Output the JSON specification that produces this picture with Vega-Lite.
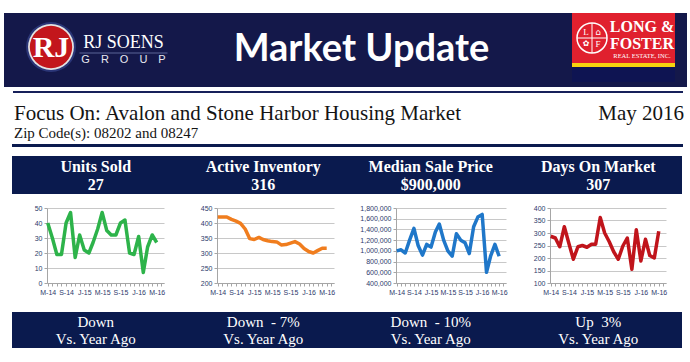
{
  "$schema": "https://vega.github.io/schema/vega-lite/v6.json",
  "padding": {"left": 4, "top": 13, "right": 3, "bottom": 13},
  "background": "white",
  "config": {
    "view": {"stroke": null},
    "concat": {"spacing": 0},
    "axis": {"labelFont": "Liberation Sans", "labelFontSize": 7, "labelColor": "#2e3a6b", "title": null}
  },
  "datasets": {
    "trend": [
      {"month": "2014-05-01", "units": 40, "inventory": 420, "price": 1000000, "dom": 287},
      {"month": "2014-06-01", "units": 30, "inventory": 420, "price": 1020000, "dom": 280},
      {"month": "2014-07-01", "units": 19, "inventory": 420, "price": 960000, "dom": 245},
      {"month": "2014-08-01", "units": 19, "inventory": 412, "price": 1200000, "dom": 325},
      {"month": "2014-09-01", "units": 40, "inventory": 406, "price": 1420000, "dom": 258},
      {"month": "2014-10-01", "units": 47, "inventory": 399, "price": 1100000, "dom": 195},
      {"month": "2014-11-01", "units": 17, "inventory": 380, "price": 920000, "dom": 245},
      {"month": "2014-12-01", "units": 32, "inventory": 348, "price": 1120000, "dom": 250},
      {"month": "2015-01-01", "units": 22, "inventory": 345, "price": 1070000, "dom": 243},
      {"month": "2015-02-01", "units": 20, "inventory": 352, "price": 1350000, "dom": 255},
      {"month": "2015-03-01", "units": 27, "inventory": 345, "price": 1500000, "dom": 255},
      {"month": "2015-04-01", "units": 36, "inventory": 341, "price": 1200000, "dom": 362},
      {"month": "2015-05-01", "units": 47, "inventory": 338, "price": 1000000, "dom": 300},
      {"month": "2015-06-01", "units": 35, "inventory": 337, "price": 900000, "dom": 265},
      {"month": "2015-07-01", "units": 32, "inventory": 327, "price": 1320000, "dom": 225},
      {"month": "2015-08-01", "units": 32, "inventory": 328, "price": 1200000, "dom": 195},
      {"month": "2015-09-01", "units": 40, "inventory": 333, "price": 1150000, "dom": 248},
      {"month": "2015-10-01", "units": 42, "inventory": 338, "price": 950000, "dom": 280},
      {"month": "2015-11-01", "units": 20, "inventory": 330, "price": 1450000, "dom": 155},
      {"month": "2015-12-01", "units": 19, "inventory": 315, "price": 1630000, "dom": 313},
      {"month": "2016-01-01", "units": 31, "inventory": 305, "price": 1680000, "dom": 188},
      {"month": "2016-02-01", "units": 7, "inventory": 300, "price": 600000, "dom": 275},
      {"month": "2016-03-01", "units": 24, "inventory": 308, "price": 900000, "dom": 210},
      {"month": "2016-04-01", "units": 32, "inventory": 316, "price": 1120000, "dom": 200},
      {"month": "2016-05-01", "units": 27, "inventory": 316, "price": 900000, "dom": 307}
    ],
    "metrics": [
      {"metric": "Units Sold", "current": "27", "change": "Down", "compare": "Vs. Year Ago"},
      {"metric": "Active Inventory", "current": "316", "change": "Down\u00a0\u00a0- 7%", "compare": "Vs. Year Ago"},
      {"metric": "Median Sale Price", "current": "$900,000", "change": "Down\u00a0\u00a0- 10%", "compare": "Vs. Year Ago"},
      {"metric": "Days On Market", "current": "307", "change": "Up\u00a0\u00a03%", "compare": "Vs. Year Ago"}
    ],
    "blank": [{}]
  },
  "spacing": 0,
  "vconcat": [
    {
      "spacing": 0,
      "hconcat": [
        {
          "width": 568, "height": 74, "view": {"fill": "#14184a"},
          "data": {"name": "blank"},
          "layer": [
            {"mark": {"type": "point", "shape": "circle", "filled": true, "opacity": 1, "size": 2500, "color": "#2b3678", "xOffset": -237, "yOffset": -3}, "encoding": {}},
            {"mark": {"type": "point", "shape": "circle", "filled": true, "opacity": 1, "size": 2100, "color": "#e4e4e4", "xOffset": -237, "yOffset": -3}, "encoding": {}},
            {"mark": {"type": "point", "shape": "circle", "filled": true, "opacity": 1, "size": 1800, "color": "#c3161c", "xOffset": -237, "yOffset": -3}, "encoding": {}},
            {"mark": {"type": "text", "text": "RJ", "font": "Liberation Serif", "fontSize": 30, "fontWeight": "bold", "color": "white", "baseline": "middle", "dx": -237, "dy": -2}, "encoding": {}},
            {"mark": {"type": "text", "text": "RJ SOENS", "font": "Liberation Serif", "fontSize": 18, "color": "white", "baseline": "alphabetic", "dx": -164.5, "dy": -2}, "encoding": {}},
            {"mark": {"type": "point", "shape": "M-1,0L1,0", "filled": false, "opacity": 1, "size": 7744, "stroke": "#5a6496", "strokeWidth": 1, "xOffset": -164.5, "yOffset": 3}, "encoding": {}},
            {"mark": {"type": "text", "text": "G\u2003R\u2003O\u2003U\u2003P", "font": "Liberation Sans", "fontSize": 11, "color": "#e8e8f0", "baseline": "alphabetic", "dx": -164.5, "dy": 13}, "encoding": {}},
            {"mark": {"type": "text", "text": "Market Update", "font": "Lato", "fontSize": 38, "fontWeight": "bold", "color": "white", "baseline": "alphabetic", "dx": 73.5, "dy": 11}, "encoding": {}}
          ]
        },
        {
          "spacing": 0,
          "bounds": "flush",
          "vconcat": [
            {
              "width": 103, "height": 50, "view": {"fill": "#e0202e"},
              "data": {"name": "blank"},
              "layer": [
                {"mark": {"type": "point", "shape": "circle", "filled": false, "opacity": 1, "size": 900, "stroke": "white", "strokeWidth": 1.5, "xOffset": -31.5}, "encoding": {}},
                {"mark": {"type": "point", "shape": "M-1,0L1,0M0,-1L0,1", "filled": false, "opacity": 1, "size": 900, "stroke": "white", "strokeWidth": 1, "xOffset": -31.5}, "encoding": {}},
                {"mark": {"type": "text", "text": "L", "font": "Liberation Serif", "fontSize": 9, "color": "white", "baseline": "middle", "dx": -37.5, "dy": -6}, "encoding": {}},
                {"mark": {"type": "text", "text": "F", "font": "Liberation Serif", "fontSize": 9, "color": "white", "baseline": "middle", "dx": -25.5, "dy": 6}, "encoding": {}},
                {"mark": {"type": "text", "text": "⌂", "font": "DejaVu Sans", "fontSize": 9, "color": "white", "baseline": "middle", "dx": -25.5, "dy": -6}, "encoding": {}},
                {"mark": {"type": "text", "text": "✿", "font": "DejaVu Sans", "fontSize": 8, "color": "white", "baseline": "middle", "dx": -37.5, "dy": 6}, "encoding": {}},
                {"mark": {"type": "text", "text": "LONG &", "font": "Liberation Serif", "fontSize": 16, "fontWeight": "bold", "color": "white", "baseline": "alphabetic", "dx": 18.5, "dy": -6}, "encoding": {}},
                {"mark": {"type": "text", "text": "FOSTER", "font": "Liberation Serif", "fontSize": 16, "fontWeight": "bold", "color": "white", "baseline": "alphabetic", "dx": 18.5, "dy": 11}, "encoding": {}},
                {"mark": {"type": "text", "text": "REAL ESTATE, INC.", "font": "Liberation Serif", "fontSize": 6.5, "color": "white", "baseline": "alphabetic", "dx": 18.5, "dy": 20}, "encoding": {}}
              ]
            },
            {"width": 103, "height": 4, "view": {"fill": "#f5d30f"}, "data": {"name": "blank"}, "mark": {"type": "point", "size": 0, "opacity": 0}, "encoding": {}},
            {"width": 103, "height": 15, "view": {"fill": "#0e1452"}, "data": {"name": "blank"}, "mark": {"type": "point", "size": 0, "opacity": 0}, "encoding": {}},
            {"width": 103, "height": 5, "view": {"fill": "#14184a"}, "data": {"name": "blank"}, "mark": {"type": "point", "size": 0, "opacity": 0}, "encoding": {}}
          ]
        },
        {"width": 12, "height": 74, "view": {"fill": "#14184a"}, "data": {"name": "blank"}, "mark": {"type": "point", "size": 0, "opacity": 0}, "encoding": {}}
      ]
    },
    {"width": 10, "height": 4, "data": {"name": "blank"}, "mark": {"type": "point", "size": 0, "opacity": 0}, "encoding": {}},
    {
      "spacing": 0, "bounds": "flush",
      "hconcat": [
        {"width": 9, "height": 2, "data": {"name": "blank"}, "mark": {"type": "point", "size": 0, "opacity": 0}, "encoding": {}},
        {"width": 670, "height": 2, "view": {"fill": "#16205a"}, "data": {"name": "blank"}, "mark": {"type": "point", "size": 0, "opacity": 0}, "encoding": {}}
      ]
    },
    {
      "width": 680, "height": 51,
      "data": {"name": "blank"},
      "layer": [
        {"mark": {"type": "text", "text": "Focus On: Avalon and Stone Harbor Housing Market", "font": "Liberation Serif", "fontSize": 21, "color": "#141414", "align": "left", "baseline": "alphabetic", "dx": -330, "dy": 1}, "encoding": {}},
        {"mark": {"type": "text", "text": "May 2016", "font": "Liberation Serif", "fontSize": 21, "color": "#141414", "align": "right", "baseline": "alphabetic", "dx": 340, "dy": 1}, "encoding": {}},
        {"mark": {"type": "text", "text": "Zip Code(s): 08202 and 08247", "font": "Liberation Serif", "fontSize": 15, "color": "#141414", "align": "left", "baseline": "alphabetic", "dx": -330, "dy": 19}, "encoding": {}}
      ]
    },
    {
      "spacing": 0, "bounds": "flush",
      "hconcat": [
        {"width": 8, "height": 3, "data": {"name": "blank"}, "mark": {"type": "point", "size": 0, "opacity": 0}, "encoding": {}},
        {"width": 671, "height": 3, "view": {"fill": "#0a1a4e"}, "data": {"name": "blank"}, "mark": {"type": "point", "size": 0, "opacity": 0}, "encoding": {}}
      ]
    },
    {"width": 10, "height": 9, "data": {"name": "blank"}, "mark": {"type": "point", "size": 0, "opacity": 0}, "encoding": {}},
    {
      "spacing": 0, "bounds": "flush",
      "hconcat": [
        {"width": 8, "height": 38, "data": {"name": "blank"}, "mark": {"type": "point", "size": 0, "opacity": 0}, "encoding": {}},
        {
          "width": 670, "height": 38, "view": {"fill": "#0a1a4e"},
          "data": {"name": "metrics"},
          "encoding": {"x": {"field": "metric", "type": "nominal", "sort": null, "axis": null, "scale": {"type": "point", "padding": 0.5}}},
          "layer": [
            {"mark": {"type": "text", "font": "Liberation Serif", "fontSize": 16, "fontWeight": "bold", "color": "white", "baseline": "alphabetic", "dy": -3}, "encoding": {"text": {"field": "metric"}}},
            {"mark": {"type": "text", "font": "Liberation Serif", "fontSize": 16, "fontWeight": "bold", "color": "white", "baseline": "alphabetic", "dy": 14.5}, "encoding": {"text": {"field": "current"}}}
          ]
        }
      ]
    },
    {"width": 10, "height": 10, "data": {"name": "blank"}, "mark": {"type": "point", "size": 0, "opacity": 0}, "encoding": {}},
    {
      "spacing": 0, "bounds": "flush",
      "hconcat": [
        {"width": 42.7, "height": 75, "data": {"name": "blank"}, "mark": {"type": "point", "size": 0, "opacity": 0}, "encoding": {}},
        {
          "width": 117, "height": 75,
          "data": {"name": "trend"},
          "mark": {"type": "line", "color": "#2db34a", "strokeWidth": 3.5, "strokeJoin": "round"},
          "encoding": {
            "x": {"field": "month", "type": "temporal",
                  "scale": {"type": "utc", "nice": false, "domain": [{"year": 2014, "month": 4, "date": 26, "utc": true}, {"year": 2016, "month": 6, "date": 19, "utc": true}]},
                  "axis": {"tickCount": {"interval": "month", "step": 1}, "labelExpr": "utcmonth(datum.value) % 4 == 0 ? slice(utcFormat(datum.value, '%b'), 0, 1) + '-' + utcFormat(datum.value, '%y') : ''", "labelOverlap": false, "labelFlush": false, "grid": false, "tickSize": 3, "domainColor": "#a6a6a6", "tickColor": "#a6a6a6", "labelPadding": 2}},
            "y": {"field": "units", "type": "quantitative",
                  "scale": {"domain": [0, 50], "nice": false, "zero": false},
                  "axis": {"values": [0, 10, 20, 30, 40, 50], "grid": true, "gridColor": "#c8c8c8", "domainColor": "#a6a6a6", "tickColor": "#a6a6a6", "tickSize": 3, "labelPadding": 2, "format": "d"}}
          }
        },
        {"width": 53, "height": 75, "data": {"name": "blank"}, "mark": {"type": "point", "size": 0, "opacity": 0}, "encoding": {}},
        {
          "width": 117, "height": 75,
          "data": {"name": "trend"},
          "mark": {"type": "line", "color": "#f07d1e", "strokeWidth": 3.5, "strokeJoin": "round"},
          "encoding": {
            "x": {"field": "month", "type": "temporal",
                  "scale": {"type": "utc", "nice": false, "domain": [{"year": 2014, "month": 4, "date": 26, "utc": true}, {"year": 2016, "month": 6, "date": 19, "utc": true}]},
                  "axis": {"tickCount": {"interval": "month", "step": 1}, "labelExpr": "utcmonth(datum.value) % 4 == 0 ? slice(utcFormat(datum.value, '%b'), 0, 1) + '-' + utcFormat(datum.value, '%y') : ''", "labelOverlap": false, "labelFlush": false, "grid": false, "tickSize": 3, "domainColor": "#a6a6a6", "tickColor": "#a6a6a6", "labelPadding": 2}},
            "y": {"field": "inventory", "type": "quantitative",
                  "scale": {"domain": [200, 450], "nice": false, "zero": false},
                  "axis": {"values": [200, 250, 300, 350, 400, 450], "grid": true, "gridColor": "#c8c8c8", "domainColor": "#a6a6a6", "tickColor": "#a6a6a6", "tickSize": 3, "labelPadding": 2, "format": "d"}}
          }
        },
        {"width": 61.3, "height": 75, "data": {"name": "blank"}, "mark": {"type": "point", "size": 0, "opacity": 0}, "encoding": {}},
        {
          "width": 110, "height": 75,
          "data": {"name": "trend"},
          "mark": {"type": "line", "color": "#1f77c9", "strokeWidth": 3.5, "strokeJoin": "round"},
          "encoding": {
            "x": {"field": "month", "type": "temporal",
                  "scale": {"type": "utc", "nice": false, "domain": [{"year": 2014, "month": 4, "date": 26, "utc": true}, {"year": 2016, "month": 6, "date": 19, "utc": true}]},
                  "axis": {"tickCount": {"interval": "month", "step": 1}, "labelExpr": "utcmonth(datum.value) % 4 == 0 ? slice(utcFormat(datum.value, '%b'), 0, 1) + '-' + utcFormat(datum.value, '%y') : ''", "labelOverlap": false, "labelFlush": false, "grid": false, "tickSize": 3, "domainColor": "#a6a6a6", "tickColor": "#a6a6a6", "labelPadding": 2}},
            "y": {"field": "price", "type": "quantitative",
                  "scale": {"domain": [400000, 1800000], "nice": false, "zero": false},
                  "axis": {"values": [400000, 600000, 800000, 1000000, 1200000, 1400000, 1600000, 1800000], "grid": true, "gridColor": "#c8c8c8", "domainColor": "#a6a6a6", "tickColor": "#a6a6a6", "tickSize": 3, "labelPadding": 2, "format": ",d"}}
          }
        },
        {"width": 43.3, "height": 75, "data": {"name": "blank"}, "mark": {"type": "point", "size": 0, "opacity": 0}, "encoding": {}},
        {
          "width": 116, "height": 75,
          "data": {"name": "trend"},
          "mark": {"type": "line", "color": "#c0141b", "strokeWidth": 3.5, "strokeJoin": "round"},
          "encoding": {
            "x": {"field": "month", "type": "temporal",
                  "scale": {"type": "utc", "nice": false, "domain": [{"year": 2014, "month": 4, "date": 26, "utc": true}, {"year": 2016, "month": 6, "date": 19, "utc": true}]},
                  "axis": {"tickCount": {"interval": "month", "step": 1}, "labelExpr": "utcmonth(datum.value) % 4 == 0 ? slice(utcFormat(datum.value, '%b'), 0, 1) + '-' + utcFormat(datum.value, '%y') : ''", "labelOverlap": false, "labelFlush": false, "grid": false, "tickSize": 3, "domainColor": "#a6a6a6", "tickColor": "#a6a6a6", "labelPadding": 2}},
            "y": {"field": "dom", "type": "quantitative",
                  "scale": {"domain": [100, 400], "nice": false, "zero": false},
                  "axis": {"values": [100, 150, 200, 250, 300, 350, 400], "grid": true, "gridColor": "#c8c8c8", "domainColor": "#a6a6a6", "tickColor": "#a6a6a6", "tickSize": 3, "labelPadding": 2, "format": "d"}}
          }
        }
      ]
    },
    {"width": 10, "height": 17, "data": {"name": "blank"}, "mark": {"type": "point", "size": 0, "opacity": 0}, "encoding": {}},
    {
      "spacing": 0, "bounds": "flush",
      "hconcat": [
        {"width": 8, "height": 36, "data": {"name": "blank"}, "mark": {"type": "point", "size": 0, "opacity": 0}, "encoding": {}},
        {
          "width": 670, "height": 36, "view": {"fill": "#0a1a4e"},
          "data": {"name": "metrics"},
          "encoding": {"x": {"field": "metric", "type": "nominal", "sort": null, "axis": null, "scale": {"type": "point", "padding": 0.5}}},
          "layer": [
            {"mark": {"type": "text", "font": "Liberation Serif", "fontSize": 15, "color": "white", "baseline": "alphabetic", "dy": -3}, "encoding": {"text": {"field": "change"}}},
            {"mark": {"type": "text", "font": "Liberation Serif", "fontSize": 15, "color": "white", "baseline": "alphabetic", "dy": 13.5}, "encoding": {"text": {"field": "compare"}}}
          ]
        }
      ]
    }
  ]
}
